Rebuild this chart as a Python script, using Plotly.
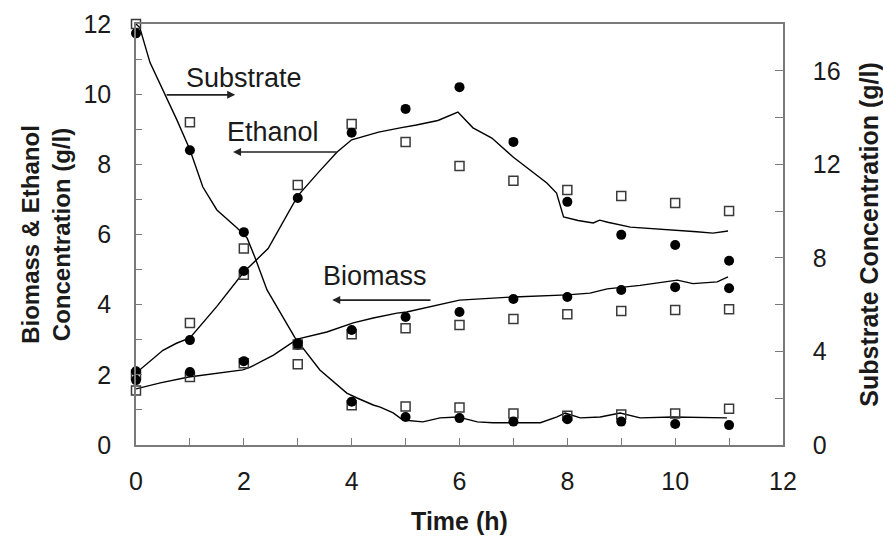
import plotly.graph_objects as go

# Sampling times (h)
hours = [0, 1, 2, 3, 4, 5, 6, 7, 8, 9, 10, 11]

# Measured ethanol (g/l) - two runs
ethanol_run1 = [2.1, 2.99, 4.96, 7.04, 8.9, 9.58, 10.2, 8.64, 6.93, 5.99, 5.7, 5.25]
ethanol_run2 = [2.0, 3.48, 4.85, 7.41, 9.15, 8.64, 7.95, 7.53, 7.27, 7.1, 6.9, 6.67]

# Measured biomass (g/l) - two runs
biomass_run1 = [1.85, 2.08, 2.39, 2.85, 3.28, 3.65, 3.79, 4.16, 4.22, 4.42, 4.5, 4.47]
biomass_run2 = [1.55, 1.94, 2.33, 2.3, 3.16, 3.33, 3.42, 3.59, 3.73, 3.82, 3.85, 3.87]

# Measured substrate (g/l, right axis) - two runs
substrate_run1 = [17.6, 12.6, 9.1, 4.35, 1.85, 1.2, 1.15, 1.0, 1.1, 1.0, 0.9, 0.85]
substrate_run2 = [18.0, 13.8, 8.4, 4.3, 1.7, 1.65, 1.6, 1.35, 1.25, 1.3, 1.35, 1.55]

# Model profiles
ethanol_model_t = [0, 0.3, 0.5, 0.75, 1.0, 1.5, 2.0, 2.45, 3.0, 3.4, 3.73, 4.0, 4.5,
                   4.9, 5.2, 5.6, 5.97, 6.25, 6.6, 7.0, 7.3, 7.62, 7.8, 7.93, 8.2,
                   8.48, 8.6, 8.75, 9.17, 9.5, 9.96, 10.4, 10.7, 10.98]
ethanol_model = [2.05, 2.45, 2.7, 2.9, 3.05, 3.95, 4.93, 5.6, 7.1, 7.8, 8.35, 8.7, 8.92,
                 9.04, 9.12, 9.25, 9.49, 9.04, 8.75, 8.2, 7.85, 7.47, 7.18, 6.5, 6.4,
                 6.33, 6.41, 6.35, 6.21, 6.18, 6.13, 6.08, 6.04, 6.1]

biomass_model_t = [0, 0.45, 0.98, 1.98, 2.12, 2.55, 2.99, 3.54, 4.03, 4.4, 4.84, 5.02,
                   6.0, 7.0, 8.0, 8.42, 8.74, 9.35, 10.04, 10.33, 10.78, 10.98]
biomass_model = [1.6, 1.77, 1.94, 2.14, 2.22, 2.56, 3.02, 3.22, 3.48, 3.62, 3.76, 3.79,
                 4.13, 4.22, 4.28, 4.33, 4.45, 4.55, 4.7, 4.6, 4.65, 4.79]

substrate_model_t = [0, 0.07, 0.26, 0.54, 0.76, 1.0, 1.24, 1.5, 1.87, 2.06, 2.21, 2.43,
                     2.73, 2.95, 3.41, 3.91, 4.1, 4.4, 4.53, 4.77, 4.95, 5.32, 5.64,
                     5.97, 6.33, 6.62, 7.5, 7.81, 7.96, 8.24, 8.61, 8.98, 9.35, 9.96,
                     10.96]
substrate_model = [18.0, 17.85, 16.35, 14.97, 13.89, 12.62, 11.03, 10.05, 9.29, 8.85,
                   8.0, 6.63, 5.48, 4.58, 3.21, 2.22, 2.01, 1.71, 1.62, 1.37, 1.07,
                   0.99, 1.16, 1.2, 0.99, 0.95, 0.95, 1.2, 1.37, 1.16, 1.2, 1.37, 1.16,
                   1.2, 1.16]

AXIS_GREY = "#7a7a7a"
TEXT = "#1a1a1a"
FONT = "Liberation Sans, Arial, sans-serif"

circle = dict(symbol="circle", size=10, color="black", line=dict(width=0))
square = dict(symbol="square-open", size=9, color="#3a3a3a", line=dict(width=1.5))
model_line = dict(color="black", width=1.4)

fig = go.Figure()

# left axis: ethanol and biomass
for t, v in [(ethanol_model_t, ethanol_model), (biomass_model_t, biomass_model)]:
    fig.add_trace(go.Scatter(x=t, y=v, mode="lines", line=model_line, yaxis="y",
                             showlegend=False, hoverinfo="skip"))
for v in [ethanol_run2, biomass_run2]:
    fig.add_trace(go.Scatter(x=hours, y=v, mode="markers", marker=square, yaxis="y",
                             showlegend=False, cliponaxis=False))
for v in [ethanol_run1, biomass_run1]:
    fig.add_trace(go.Scatter(x=hours, y=v, mode="markers", marker=circle, yaxis="y",
                             showlegend=False, cliponaxis=False))

# right axis: substrate
fig.add_trace(go.Scatter(x=substrate_model_t, y=substrate_model, mode="lines",
                         line=model_line, yaxis="y2", showlegend=False,
                         hoverinfo="skip", cliponaxis=False))
fig.add_trace(go.Scatter(x=hours, y=substrate_run2, mode="markers", marker=square,
                         yaxis="y2", showlegend=False, cliponaxis=False))
fig.add_trace(go.Scatter(x=hours, y=substrate_run1, mode="markers", marker=circle,
                         yaxis="y2", showlegend=False, cliponaxis=False))

tick_font = dict(family=FONT, size=25, color=TEXT)

fig.update_layout(
    width=883, height=536,
    margin=dict(l=136, r=100, t=24, b=91, autoexpand=False),
    paper_bgcolor="white", plot_bgcolor="white",
    xaxis=dict(
        range=[0, 12], dtick=2, tick0=0, showgrid=False, zeroline=False,
        showline=True, linecolor=AXIS_GREY, linewidth=1.6, mirror=True,
        ticks="inside", ticklen=7, tickwidth=1.2, tickcolor=AXIS_GREY,
        minor=dict(dtick=1, ticks="inside", ticklen=7, tickwidth=1.2, tickcolor=AXIS_GREY),
        tickfont=tick_font, ticklabelstandoff=13, automargin=False,
        title=dict(text="<b>Time (h)</b>", font=dict(family=FONT, size=25, color=TEXT),
                   standoff=19),
    ),
    yaxis=dict(
        range=[0, 12], dtick=2, tick0=0, showgrid=False, zeroline=False,
        showline=True, linecolor=AXIS_GREY, linewidth=1.6,
        ticks="inside", ticklen=6, tickwidth=1.2, tickcolor=AXIS_GREY,
        minor=dict(dtick=1, ticks="inside", ticklen=6, tickwidth=1.2, tickcolor=AXIS_GREY),
        tickfont=tick_font, ticklabelstandoff=18, automargin=False,
        title=dict(text="<b>Biomass &amp; Ethanol<br>Concentration (g/l)</b>",
                   font=dict(family=FONT, size=24, color=TEXT), standoff=6),
    ),
    yaxis2=dict(
        range=[0, 18], dtick=4, tick0=0, overlaying="y", side="right",
        showgrid=False, zeroline=False,
        showline=True, linecolor=AXIS_GREY, linewidth=1.6,
        ticks="inside", ticklen=8, tickwidth=1.2, tickcolor=AXIS_GREY,
        minor=dict(dtick=2, ticks="inside", ticklen=8, tickwidth=1.2, tickcolor=AXIS_GREY),
        tickfont=tick_font, ticklabelstandoff=23, automargin=False,
        title=dict(text="<b>Substrate Concentration (g/l)</b>",
                   font=dict(family=FONT, size=25, color=TEXT), standoff=29),
    ),
)

ann_font = dict(family=FONT, size=27, color=TEXT)
labels = [
    # text, text position, arrow head, arrow tail
    ("Substrate", (2.0, 10.46), (1.84, 9.98), (0.54, 9.98)),
    ("Ethanol", (2.54, 8.92), (1.8, 8.35), (3.75, 8.35)),
    ("Biomass", (4.43, 4.82), (3.64, 4.13), (5.49, 4.13)),
]
for text, (tx, ty), (hx, hy), (sx, sy) in labels:
    fig.add_annotation(x=tx, y=ty, xref="x", yref="y", text=text, showarrow=False,
                       font=ann_font)
    fig.add_annotation(x=hx, y=hy, ax=sx, ay=sy, xref="x", yref="y", axref="x",
                       ayref="y", text="", showarrow=True, arrowhead=2, arrowsize=1,
                       arrowwidth=1.6, arrowcolor="#222222", standoff=0, startstandoff=0)

fig.write_html("out.html")
